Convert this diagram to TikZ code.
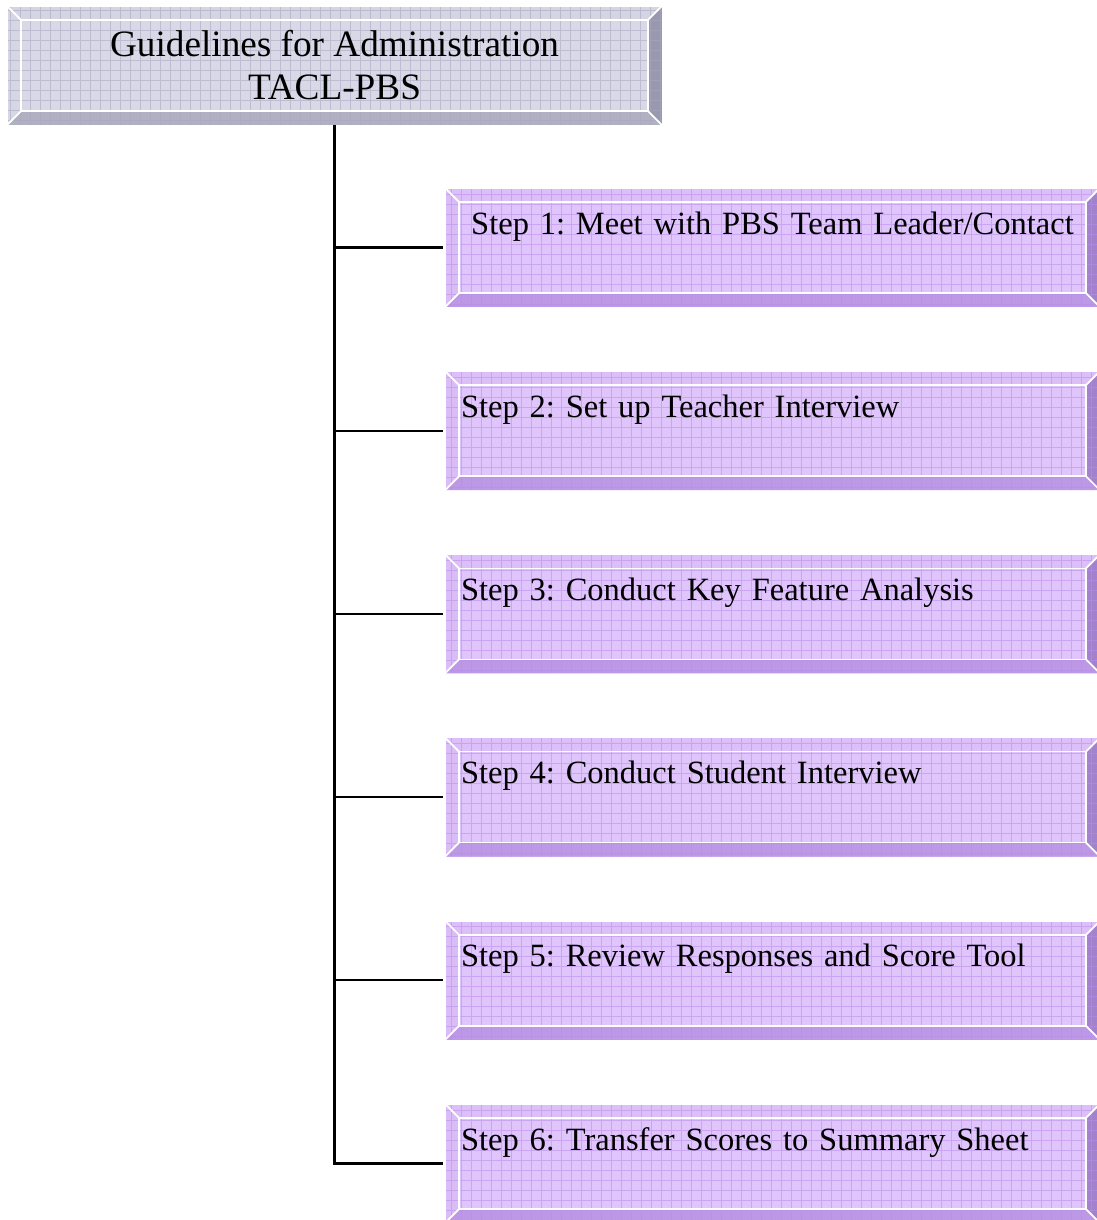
\documentclass[tikz,border=0pt]{standalone}
\usepackage{fontspec}
\setmainfont{Liberation Serif}
\usetikzlibrary{positioning}
\definecolor{GuideFace}{HTML}{D8D8E6}
\definecolor{GuideTop}{HTML}{D4D4E2}
\definecolor{GuideLeft}{HTML}{D6D6E4}
\definecolor{GuideBottom}{HTML}{B0B0C2}
\definecolor{GuideRight}{HTML}{9898AE}
\definecolor{GuideGrid}{HTML}{A8A8C0}
\definecolor{StepFace}{HTML}{E0C4FC}
\definecolor{StepTop}{HTML}{DCBEF8}
\definecolor{StepLeft}{HTML}{DABCF6}
\definecolor{StepBottom}{HTML}{BC98E6}
\definecolor{StepRight}{HTML}{A282CC}
\definecolor{StepGrid}{HTML}{B88EEA}
\newcommand{\boxfont}{\fontsize{18.5}{24.4}\selectfont\frenchspacing}
\newcommand{\titlefont}{\fontsize{21.2}{24.4}\selectfont}

\begin{document}
\begin{tikzpicture}[
  x=0.02cm,y=-0.02cm,
  every node/.style={font=\boxfont},
  bevelbox/.style={rectangle,inner sep=0pt,minimum width=13.1cm,minimum height=2.38cm,fill=#1Face,
    path picture={
      \coordinate (bl) at (path picture bounding box.south west);
      \coordinate (tr) at (path picture bounding box.north east);
      \coordinate (tl) at (bl|-tr);
      \coordinate (br) at (tr|-bl);
      \coordinate (ibl) at ([shift={(0.28cm,0.28cm)}]bl);
      \coordinate (itr) at ([shift={(-0.28cm,-0.28cm)}]tr);
      \coordinate (itl) at ([shift={(0.28cm,-0.28cm)}]tl);
      \coordinate (ibr) at ([shift={(-0.28cm,0.28cm)}]br);
      \fill[#1Top] (tl) -- (tr) -- (itr) -- (itl) -- cycle;
      \fill[#1Left] (tl) -- (itl) -- (ibl) -- (bl) -- cycle;
      \fill[#1Bottom] (bl) -- (ibl) -- (ibr) -- (br) -- cycle;
      \fill[#1Right] (br) -- (ibr) -- (itr) -- (tr) -- cycle;
      \draw[#1Grid,opacity=0.55,line width=0.4pt,step=0.2cm] (bl) grid (tr);
      \draw[white,line width=1pt] (itl) rectangle (ibr);
      \draw[white,line width=1pt] (tl) -- (itl) (tr) -- (itr) (bl) -- (ibl) (br) -- (ibr);
      \draw[white,line width=1pt] (bl) -- (tl) -- (tr);
    }},
  stepbox/.style={bevelbox=Step,text width=12.46cm,inner xsep=0.32cm,
    text height=0.92cm,text depth=1.46cm,align=left},
  link/.style={line width=1.3pt}
]
  \useasboundingbox (0,0) rectangle (1096,1220);

  \node[bevelbox=Guide,align=center,font=\titlefont] (guide) at (334.5,65.5)
    {Guidelines for Administration\\TACL-PBS};

  % the six steps
  \node[stepbox,align=center] (s1) at (772.5,247.5)
    {Step 1: Meet with PBS Team Leader/Contact};
  \foreach \i/\txt in {2/Step 2: Set up Teacher Interview,
                       3/Step 3: Conduct Key Feature Analysis,
                       4/Step 4: Conduct Student Interview,
                       5/Step 5: Review Responses and Score Tool,
                       6/Step 6: Transfer Scores to Summary Sheet}{
    \node[stepbox] (s\i) at (772.5,{64.3+183.2*\i}) {\txt};
  }

  \foreach \i in {1,...,6}{
    \draw[link,shorten <=1pt] (s\i.west) -| (guide.south);
  }
\end{tikzpicture}
\end{document}
